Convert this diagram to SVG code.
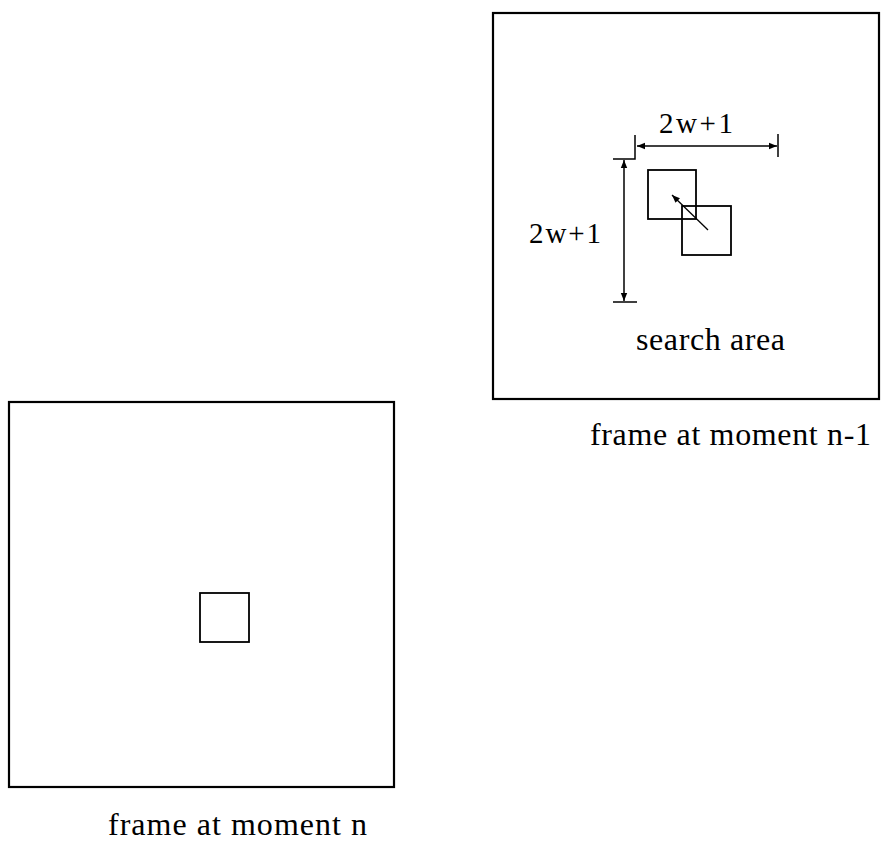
<svg xmlns="http://www.w3.org/2000/svg" width="881" height="841" viewBox="0 0 881 841">
<style>
.frame{fill:none;stroke:#000;stroke-width:2.2}
.blk{fill:none;stroke:#000;stroke-width:1.8}
.dim{fill:none;stroke:#000;stroke-width:1.5}
.lbl{font-family:"Liberation Serif","DejaVu Serif",serif;fill:#000}
</style>
<defs>
<marker id="ah" viewBox="0 0 10 10" refX="10" refY="5" markerWidth="8" markerHeight="8" markerUnits="userSpaceOnUse" orient="auto-start-reverse">
<path d="M0,1 L10,5 L0,9 Z" fill="#000"/>
</marker>
</defs>
<rect width="881" height="841" fill="#fff"/>
<g id="frame-n1">
<rect class="frame" x="493" y="13" width="386" height="386"/>
<text class="lbl" x="636" y="350" font-size="32" textLength="149" lengthAdjust="spacing">search area</text>
<text class="lbl" x="590" y="445" font-size="32" textLength="281" lengthAdjust="spacing">frame at moment n-1</text>
</g>
<g id="block-prev">
<rect class="blk" x="648" y="170" width="48" height="49"/>
</g>
<g id="block-cur">
<rect class="blk" x="682" y="206" width="49" height="49"/>
</g>
<g id="frame-n">
<rect class="frame" x="9" y="402" width="385" height="385"/>
<rect class="blk" x="200" y="593" width="49" height="49"/>
<text class="lbl" x="108" y="835" font-size="32" textLength="259" lengthAdjust="spacing">frame at moment n</text>
</g>
<g id="connectors">
<path class="dim" d="M635,135 L635,159 L613,159"/>
<path class="dim" d="M778,134 L778,157"/>
<path class="dim" d="M613,302 L637,302"/>
<line class="dim" x1="637" y1="146" x2="777" y2="146" marker-start="url(#ah)" marker-end="url(#ah)"/>
<line class="dim" x1="624" y1="160" x2="624" y2="301" marker-start="url(#ah)" marker-end="url(#ah)"/>
<line x1="708" y1="230" x2="672" y2="195" stroke="#000" stroke-width="1.3" marker-end="url(#ah)"/>
<text class="lbl" x="659" y="133" font-size="29" textLength="74" lengthAdjust="spacing">2w+1</text>
<text class="lbl" x="529" y="243" font-size="29" textLength="72" lengthAdjust="spacing">2w+1</text>
</g>
</svg>
